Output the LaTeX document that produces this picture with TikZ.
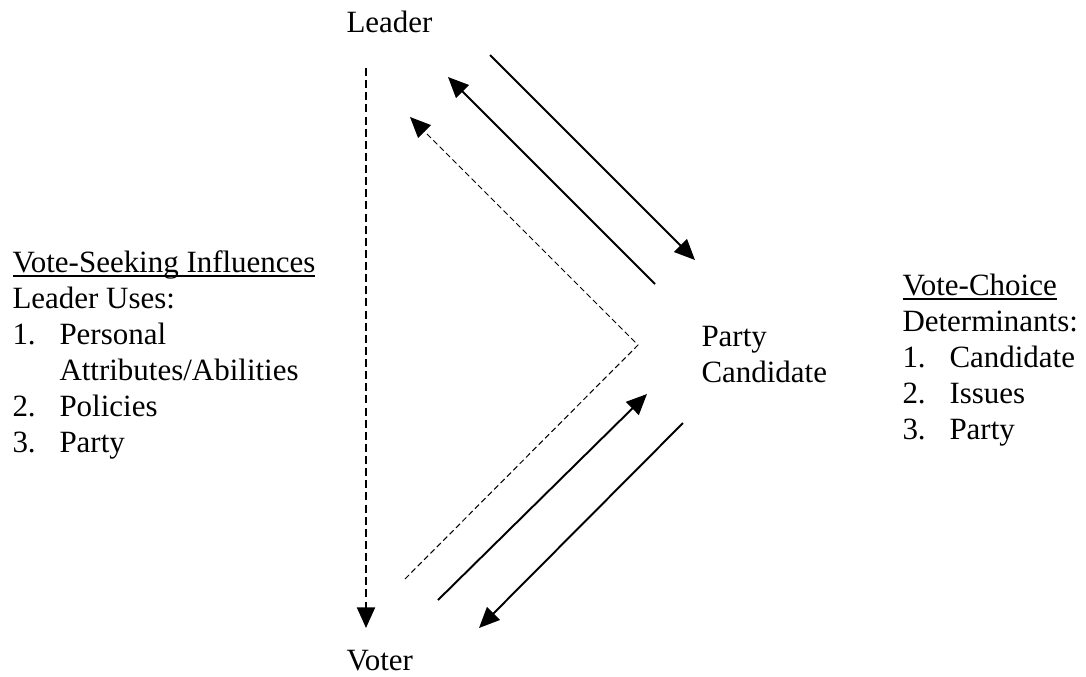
\documentclass[tikz,border=0pt]{standalone}
\usepackage{fontspec}
\setmainfont{Liberation Serif}
\usetikzlibrary{arrows.meta}
\newcommand{\wordul}[1]{\leavevmode\setbox0\hbox{#1}\rlap{\rule[-1.8pt]{\wd0}{0.7pt}}\box0}

\begin{document}
\begin{tikzpicture}[x=0.3876pt,y=-0.3876pt,
		txt/.style={anchor=base west,inner sep=0pt,font=\fontsize{12}{14}\selectfont},
		arr/.style={line width=0.75pt,-{Triangle[length=8pt,width=7pt]}}]
		\useasboundingbox (0,0) rectangle (1086,677);
		% actors
		\node[txt] (leader) at (346,32) {Leader};
		\node[txt] (voter) at (346,670) {Voter};
		\node[txt] (party) at (701,346) {Party};
		\node[txt] (cand) at (701,382) {Candidate};
		% left list
		\node[txt] (seek) at (12,272) {\wordul{Vote-Seeking Influences}};
		\node[txt] (uses) at (12,308) {Leader Uses:};
		\foreach \n/\y/\t in {1/344/Personal,2/416/Policies,3/452/Party}{
			\node[txt] (seeknum\n) at (12,\y) {\n.};
			\node[txt] (seekitem\n) at (59,\y) {\t};
		}
		\node[txt] (attr) at (59,380) {Attributes/Abilities};
		% right list
		\node[txt] (choice) at (902,295) {\wordul{Vote-Choice}};
		\node[txt] (determ) at (902,331) {Determinants:};
		\foreach \n/\y/\t in {1/367/Candidate,2/403/Issues,3/439/Party}{
			\node[txt] (choicenum\n) at (902,\y) {\n.};
			\node[txt] (choiceitem\n) at (949,\y) {\t};
		}
		% arrow ends
		\coordinate (vtop) at (366,68);
		\coordinate (vbot) at (366,628);
		\coordinate (lc1) at (490,55);
		\coordinate (lc2) at (695,260);
		\coordinate (cl1) at (655,284);
		\coordinate (cl2) at (448,77);
		\coordinate (vc1) at (438,600);
		\coordinate (vc2) at (647,394);
		\coordinate (cv1) at (683,423);
		\coordinate (cv2) at (479,628);
		\coordinate (dlow) at (405,579);
		\coordinate (dmid) at (638,345);
		\coordinate (dtop) at (410,117);
		\draw[arr,dash pattern=on 3.1pt off 1.6pt] (vtop) -- (vbot);
		\draw[arr] (lc1) -- (lc2);
		\draw[arr] (cl1) -- (cl2);
		\draw[arr] (vc1) -- (vc2);
		\draw[arr] (cv1) -- (cv2);
		\draw[arr,line width=0.4pt,dash pattern=on 2.2pt off 1.3pt] (dlow) -- (dmid) -- (dtop);
\end{tikzpicture}
\end{document}
